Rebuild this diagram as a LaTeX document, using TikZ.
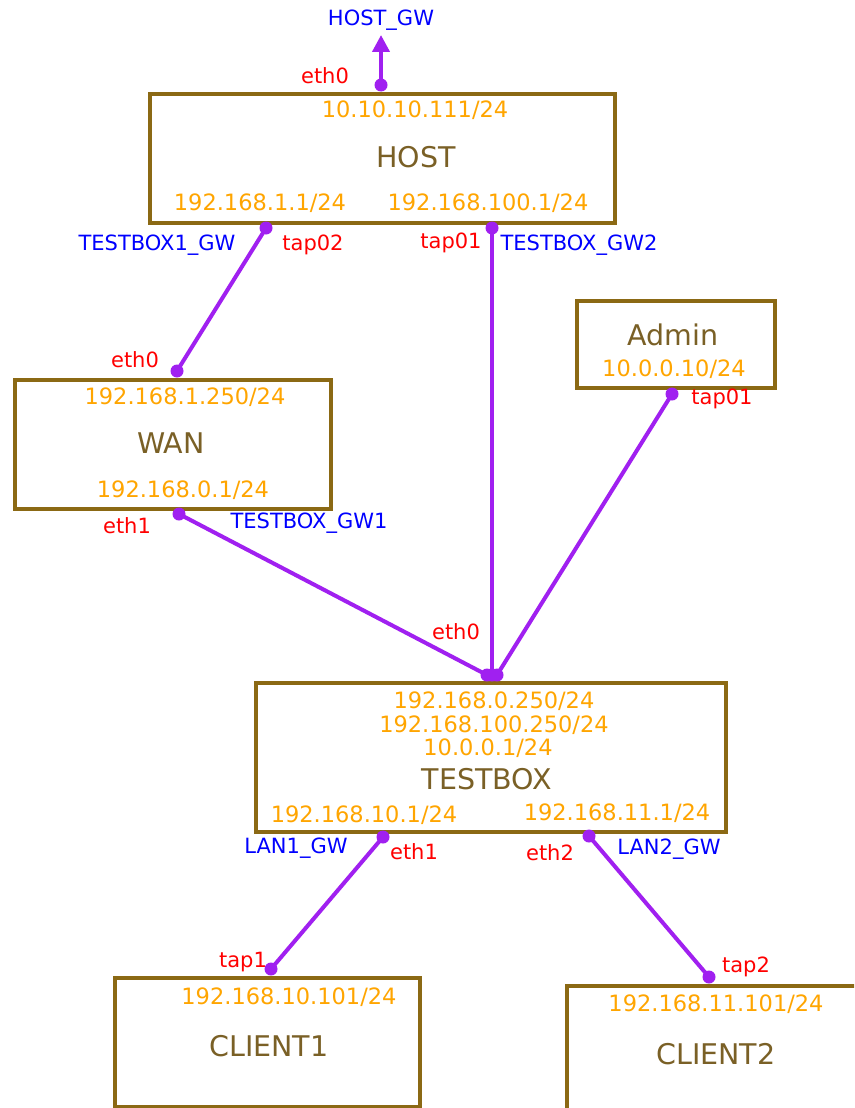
\documentclass[tikz,border=0pt]{standalone}
\usepackage{fontspec}
\setmainfont{DejaVu Sans}
\usetikzlibrary{arrows.meta}
\definecolor{boxbrown}{RGB}{139,105,20}
\definecolor{namebrown}{RGB}{122,96,38}
\definecolor{iporange}{RGB}{255,165,0}
\definecolor{linkpurple}{RGB}{160,32,240}
\definecolor{lblred}{RGB}{255,0,0}
\definecolor{lblblue}{RGB}{0,0,255}
\begin{document}
\begin{tikzpicture}[x=1pt,y=-1pt,
  devbox/.style={draw=boxbrown, line width=4pt, fill=white, rectangle, inner sep=0pt, anchor=north west},
  ip/.style={text=iporange, font=\fontsize{22.5}{25}\selectfont, inner sep=0pt},
  devname/.style={text=namebrown, font=\fontsize{28.5}{31}\selectfont, inner sep=0pt},
  iflbl/.style={text=lblred, font=\fontsize{21}{23}\selectfont, inner sep=0pt},
  gwlbl/.style={text=lblblue, font=\fontsize{21}{23}\selectfont, inner sep=0pt},
  port/.style={circle, fill=linkpurple, inner sep=0pt, minimum size=13pt},
  link/.style={draw=linkpurple, line width=4pt},
]
\clip (0,0) rectangle (854,1108);
\fill[white] (0,0) rectangle (854,1108);

% boxes
\node[devbox, minimum width=465pt, minimum height=129pt] (host) at (148,92) {};
\node[devbox, minimum width=316pt, minimum height=129pt] (wan) at (13,378) {};
\node[devbox, minimum width=198pt, minimum height=87pt] (admin) at (575,299) {};
\node[devbox, minimum width=470pt, minimum height=149pt] (testbox) at (254,681) {};
\node[devbox, minimum width=305pt, minimum height=129pt] (client1) at (113,976) {};
\node[devbox, minimum width=335pt, minimum height=160pt] (client2) at (565,984) {};

% box texts
\node[ip] (hostip0) at (415,110) {10.10.10.111/24};
\node[devname] (hostname) at (416,157) {HOST};
\node[ip] (hostip1) at (260,203) {192.168.1.1/24};
\node[ip] (hostip2) at (488,203) {192.168.100.1/24};

\node[ip] (wanip0) at (185,397) {192.168.1.250/24};
\node[devname] (wanname) at (171,443) {WAN};
\node[ip] (wanip1) at (183,490) {192.168.0.1/24};

\node[devname] (adminname) at (673,335) {Admin};
\node[ip] (adminip) at (674,369) {10.0.0.10/24};

\node[ip] (tbip0) at (494,701) {192.168.0.250/24};
\node[ip] (tbip1) at (494,725) {192.168.100.250/24};
\node[ip] (tbip2) at (488,748) {10.0.0.1/24};
\node[devname] (tbname) at (487,779) {TESTBOX};
\node[ip] (tbip3) at (364,815) {192.168.10.1/24};
\node[ip] (tbip4) at (617,813) {192.168.11.1/24};

\node[ip] (c1ip) at (289,997) {192.168.10.101/24};
\node[devname] (c1name) at (269,1046) {CLIENT1};
\node[ip] (c2ip) at (716,1004) {192.168.11.101/24};
\node[devname] (c2name) at (716,1054) {CLIENT2};

% ports
\node[port] (hostEth0) at (381,85) {};
\node[port] (hostTap02) at (266,228) {};
\node[port] (hostTap01) at (492,228) {};
\node[port] (wanEth0) at (177,371) {};
\node[port] (wanEth1) at (179,514) {};
\node[port] (adminTap01) at (672,394) {};
\node[port] (tbEth0a) at (487,675) {};
\node[port] (tbEth0b) at (492,675) {};
\node[port] (tbEth0c) at (497,675) {};
\node[port] (tbEth1) at (383,837) {};
\node[port] (tbEth2) at (589,836) {};
\node[port] (c1Tap1) at (271,969) {};
\node[port] (c2Tap2) at (709,977) {};
\coordinate (hostgw) at (381,35);

% links
\draw[link, -{Triangle[length=17pt,width=17pt]}] (hostEth0.center) -- (hostgw);
\draw[link] (hostTap02.center) -- (wanEth0.center);
\draw[link] (hostTap01.center) -- (tbEth0b.center);
\draw[link] (wanEth1.center) -- (tbEth0a.center);
\draw[link] (adminTap01.center) -- (tbEth0c.center);
\draw[link] (tbEth1.center) -- (c1Tap1.center);
\draw[link] (tbEth2.center) -- (c2Tap2.center);

% labels
\node[gwlbl] (lhostgw) at (381,20) {HOST\_GW};
\node[iflbl] (lhosteth0) at (325,76) {eth0};
\node[gwlbl] (ltb1gw) at (157,245) {TESTBOX1\_GW};
\node[iflbl] (ltap02) at (313,245) {tap02};
\node[iflbl] (ltap01) at (451,243) {tap01};
\node[gwlbl] (ltbgw2) at (579,245) {TESTBOX\_GW2};
\node[iflbl] (lwaneth0) at (135,360) {eth0};
\node[iflbl] (ladmintap) at (722,399) {tap01};
\node[iflbl] (lwaneth1) at (127,526) {eth1};
\node[gwlbl] (ltbgw1) at (309,523) {TESTBOX\_GW1};
\node[iflbl] (ltbeth0) at (456,632) {eth0};
\node[gwlbl] (llan1gw) at (296,848) {LAN1\_GW};
\node[iflbl] (ltbeth1) at (414,852) {eth1};
\node[iflbl] (ltbeth2) at (550,853) {eth2};
\node[gwlbl] (llan2gw) at (669,849) {LAN2\_GW};
\node[iflbl] (ltap1) at (243,962) {tap1};
\node[iflbl] (ltap2) at (746,967) {tap2};
\end{tikzpicture}
\end{document}
